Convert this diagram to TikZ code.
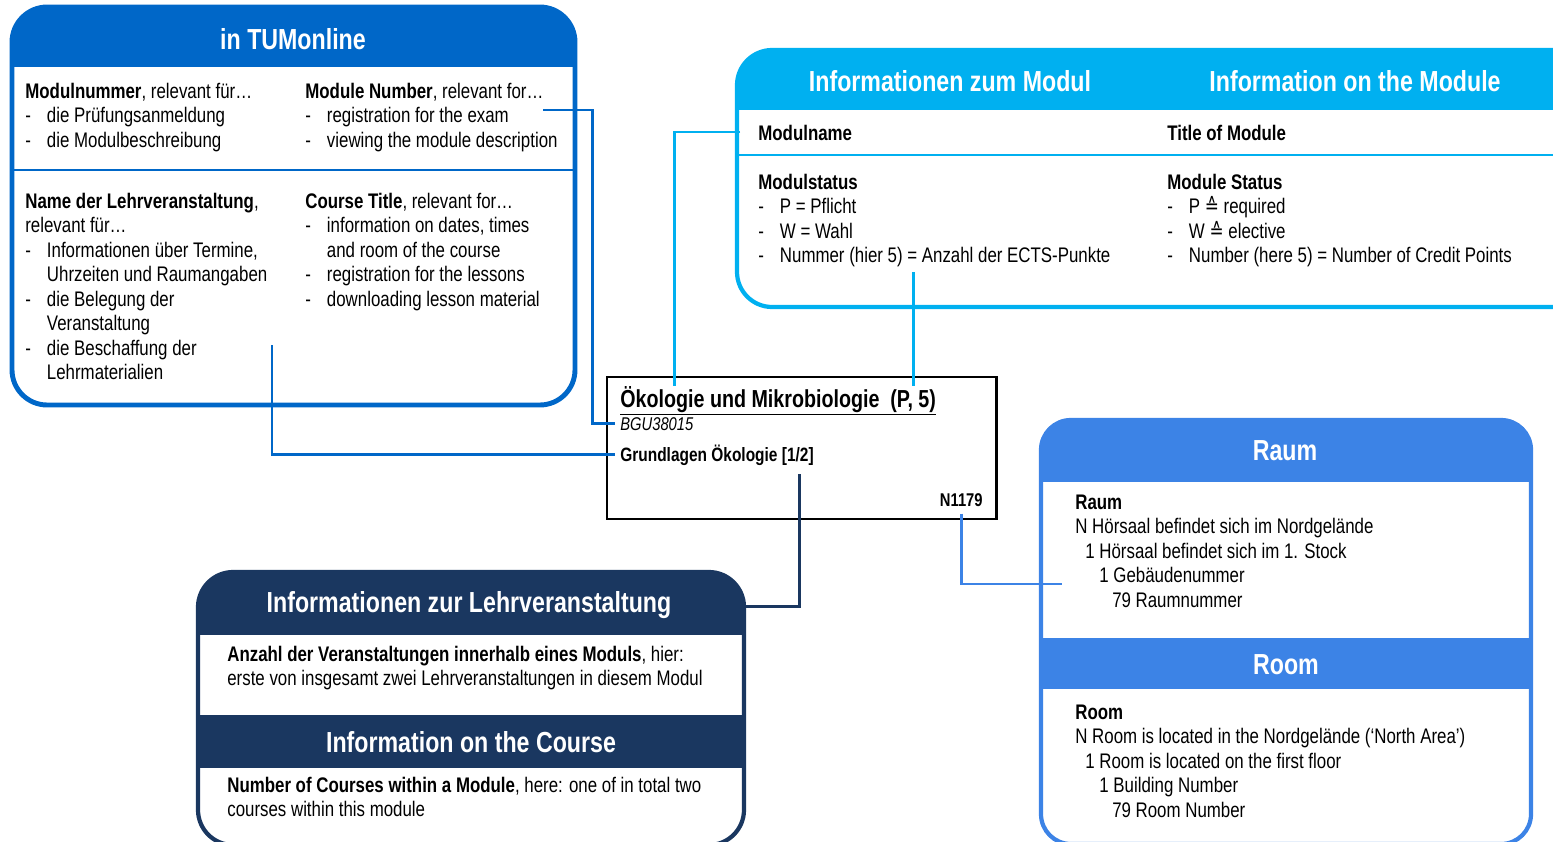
\documentclass[tikz,border=0pt]{standalone}
\usepackage{fontspec}
\setmainfont[FakeStretch=0.8]{Liberation Sans}
\newfontfamily\symfont[FakeStretch=0.8]{DejaVu Sans}
\usetikzlibrary{positioning}
\definecolor{tumblue}{RGB}{0,103,200}
\definecolor{modblue}{RGB}{0,176,240}
\definecolor{lvnavy}{RGB}{26,55,96}
\definecolor{roomblue}{RGB}{60,131,230}
\newcommand{\dashitem}{\makebox[12.3pt][l]{-}}
\newcommand{\hangitem}{\hspace*{12.3pt}}
\tikzset{txt/.style={anchor=base west,inner sep=0pt,align=left,
                     font=\fontsize{12}{13.94}\selectfont},
         head/.style={inner sep=0pt,text=white,
                      font=\fontsize{16.5}{19}\selectfont\bfseries},
         frame/.style={line width=2.4pt,rounded corners=20pt},
         link/.style={line width=1.7pt},
         ctext/.style={anchor=base west,inner sep=0pt}}

\begin{document}
\begin{tikzpicture}[x=0.02cm,y=-0.02cm]
\useasboundingbox (0,0) rectangle (1553,842);
\clip (0,0) rectangle (1553,842);

\fill[white,rounded corners=20pt] (12,7) rectangle (575,405);
\begin{scope}
  \clip[rounded corners=20pt] (12,7) rectangle (575,405);
  \fill[tumblue] (12,7) rectangle (575,67);
  \draw[tumblue,line width=1.7pt] (12,170) -- (575,170);
\end{scope}
\draw[frame,tumblue,line width=2.8pt] (12,7) rectangle (575,405);

\fill[white,rounded corners=20pt] (737,50) rectangle (1620,307);
\begin{scope}
  \clip[rounded corners=20pt] (737,50) rectangle (1620,307);
  \fill[modblue] (737,50) rectangle (1620,110);
  \draw[modblue,line width=1.7pt] (737,155) -- (1620,155);
\end{scope}
\draw[frame,modblue] (737,50) rectangle (1620,307);

\fill[white,rounded corners=20pt] (198,572) rectangle (744,845);
\begin{scope}
  \clip[rounded corners=20pt] (198,572) rectangle (744,845);
  \fill[lvnavy] (198,572) rectangle (744,635);
  \fill[lvnavy] (198,715) rectangle (744,768);
\end{scope}
\draw[frame,lvnavy] (198,572) rectangle (744,845);

\fill[white,rounded corners=17pt] (1041,420) rectangle (1531,844);
\begin{scope}
  \clip[rounded corners=17pt] (1041,420) rectangle (1531,844);
  \fill[roomblue] (1041,420) rectangle (1531,482);
  \fill[roomblue] (1041,638) rectangle (1531,689);
\end{scope}
\draw[frame,roomblue,rounded corners=17pt] (1041,420) rectangle (1531,844);

\node[head] (tumhead) at (293,39) {in TUMonline};
\node[txt] (modnr) at (25,147) {\textbf{Modulnummer}, relevant für…\\
  \dashitem die Prüfungsanmeldung\\
  \dashitem die Modulbeschreibung};
\node[txt] (modnum) at (305,147) {\textbf{Module Number}, relevant for…\\
  \dashitem registration for the exam\\
  \dashitem viewing the module description};
\node[txt] (lvname) at (25,379.5) {\textbf{Name der Lehrveranstaltung},\\
  relevant für…\\
  \dashitem Informationen über Termine,\\
  \hangitem Uhrzeiten und Raumangaben\\
  \dashitem die Belegung der\\
  \hangitem Veranstaltung\\
  \dashitem die Beschaffung der\\
  \hangitem Lehrmaterialien};
\node[txt] (ctitle) at (305,306) {\textbf{Course Title}, relevant for…\\
  \dashitem information on dates, times\\
  \hangitem and room of the course\\
  \dashitem registration for the lessons\\
  \dashitem downloading lesson material};

\node[head] (modhead) at (950,81) {Informationen zum Modul};
\node[head] (modheaden) at (1355,81) {Information on the Module};
\node[txt] (modname) at (758,140) {\textbf{Modulname}};
\node[txt] (modtitle) at (1167,140) {\textbf{Title of Module}};
\node[txt] (modstat) at (758,262.5) {\textbf{Modulstatus}\\
  \dashitem P = Pflicht\\
  \dashitem W = Wahl\\
  \dashitem Nummer (hier 5) = Anzahl der ECTS-Punkte};
\node[txt] (modstatus) at (1167,262.5) {\textbf{Module Status}\\
  \dashitem P {\symfont ≙} required\\
  \dashitem W {\symfont ≙} elective\\
  \dashitem Number (here 5) = Number of Credit Points};

\node[head] (lvhead) at (469,605) {Informationen zur Lehrveranstaltung};
\node[txt] (lvcount) at (227,685.5) {\textbf{Anzahl der Veranstaltungen innerhalb eines Moduls}, hier:\\
  erste von insgesamt zwei Lehrveranstaltungen in diesem Modul};
\node[head] (lvheaden) at (471,742) {Information on the Course};
\node[txt] (lvcounten) at (227,816.5) {\textbf{Number of Courses within a Module}, here: one of in total two\\
  courses within this module};

\node[head] (roomhead) at (1285,451) {Raum};
\node[txt] (roomde) at (1075,607) {\textbf{Raum}\\
  N Hörsaal befindet sich im Nordgelände\\
  \hspace*{5.7pt}1 Hörsaal befindet sich im 1. Stock\\
  \hspace*{13.7pt}1 Gebäudenummer\\
  \hspace*{21pt}79 Raumnummer};
\node[head] (roomheaden) at (1286,665) {Room};
\node[txt] (roomen) at (1075,817) {\textbf{Room}\\
  N Room is located in the Nordgelände (‘North Area’)\\
  \hspace*{5.7pt}1 Room is located on the first floor\\
  \hspace*{13.7pt}1 Building Number\\
  \hspace*{21pt}79 Room Number};

\draw[black,line width=1.7pt] (607,377) rectangle (996,519);
\node[ctext,font=\fontsize{14}{16}\selectfont\bfseries] (title) at (620,407)
  {\underline{Ökologie und Mikrobiologie\ \ (P, 5)}};
\node[ctext,font=\fontsize{10.5}{12}\selectfont\itshape] (code) at (620,430) {BGU38015};
\node[ctext,font=\fontsize{11}{13}\selectfont\bfseries] (course) at (620,461) {Grundlagen Ökologie [1/2]};
\node[anchor=base east,inner sep=0pt,font=\fontsize{10.5}{12}\selectfont\bfseries] (nroom) at (983,506) {N1179};

\coordinate (exam) at (543,110);
\coordinate (lvlink) at (272,345);
\coordinate (modlink) at (740,132);
\coordinate (ectslink) at (913,272);
\coordinate (lvin) at (744,606);
\coordinate (roomin) at (1062,584);

\draw[link,tumblue] (exam) -| ([xshift=-15.4pt]code.west) -- ([xshift=-3pt]code.west);
\draw[link,tumblue] (lvlink) |- ([xshift=-3pt]course.west);
\draw[link,modblue] (modlink) -| ([xshift=31pt]title.north west);
\draw[link,modblue] (ectslink) -- (ectslink |- title.north);
\draw[link,lvnavy] ([xshift=-8pt,yshift=-5pt]course.south east) |- (lvin);
\draw[link,roomblue] ([yshift=-4pt]nroom.south) |- (roomin);
\end{tikzpicture}
\end{document}
